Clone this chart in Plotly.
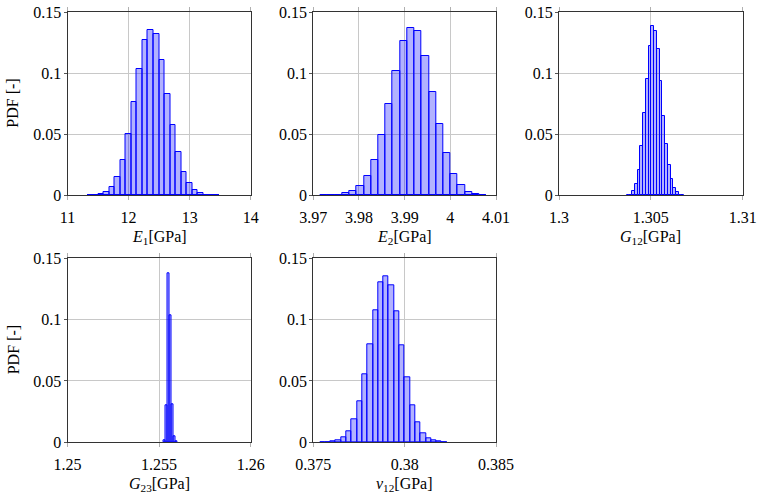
import plotly.graph_objects as go

# ---------------- data (bin centres and probability per bin) ----------------
e1_centers = [11.366, 11.457, 11.547, 11.638, 11.729, 11.819, 11.910, 12.000, 12.091,
              12.182, 12.272, 12.363, 12.453, 12.544, 12.635, 12.725, 12.816, 12.906,
              12.997, 13.087, 13.178, 13.269, 13.359, 13.450]
e1_pdf = [0.0001, 0.0003, 0.0010, 0.0025, 0.0065, 0.0153, 0.0286, 0.0499, 0.0761,
          0.1031, 0.1268, 0.1353, 0.1323, 0.1105, 0.0826, 0.0575, 0.0352, 0.0188,
          0.0098, 0.0044, 0.0019, 0.0005, 0.0002, 0.0001]
e1_bin = 0.0906

e2_centers = [3.97237, 3.97395, 3.97553, 3.97711, 3.97869, 3.98028, 3.98186, 3.98344,
              3.98502, 3.98660, 3.98819, 3.98977, 3.99135, 3.99293, 3.99451, 3.99610,
              3.99768, 3.99926, 4.00084, 4.00242, 4.00401, 4.00559, 4.00717]
e2_pdf = [0.0001, 0.0002, 0.0005, 0.0016, 0.0035, 0.0076, 0.0161, 0.0286, 0.0494,
          0.0745, 0.1015, 0.1260, 0.1366, 0.1342, 0.1137, 0.0845, 0.0581, 0.0344,
          0.0175, 0.0082, 0.0030, 0.0008, 0.0003]
e2_bin = 0.001582

g12_centers = [1.303762, 1.303911, 1.304060, 1.304209, 1.304358, 1.304507, 1.304656,
               1.304805, 1.304954, 1.305103, 1.305251, 1.305400, 1.305549, 1.305698,
               1.305847, 1.305996, 1.306145, 1.306294, 1.306443, 1.306592, 1.306741]
g12_pdf = [0.0002, 0.0006, 0.0035, 0.0095, 0.0205, 0.0406, 0.0671, 0.0949, 0.1219,
           0.1383, 0.1342, 0.1195, 0.0933, 0.0652, 0.0417, 0.0245, 0.0131, 0.0057,
           0.0025, 0.0005, 0.0002]
g12_bin = 0.0001489

g23_centers = [1.25529, 1.25540, 1.25551, 1.25562, 1.25573, 1.25584, 1.25595]
g23_pdf = [0.0016, 0.0300, 0.1378, 0.1033, 0.0310, 0.0050, 0.0005]
g23_bin = 0.000109

nu12_centers = [0.375505, 0.375795, 0.376085, 0.376375, 0.376665, 0.376955, 0.377245,
                0.377535, 0.377825, 0.378115, 0.378405, 0.378695, 0.378985, 0.379275,
                0.379565, 0.379855, 0.380145, 0.380435, 0.380725, 0.381015, 0.381305,
                0.381595, 0.381885, 0.382175]
nu12_pdf = [0.0001, 0.0002, 0.0005, 0.0016, 0.0041, 0.0090, 0.0184, 0.0337, 0.0551,
            0.0801, 0.1076, 0.1301, 0.1356, 0.1280, 0.1068, 0.0791, 0.0530, 0.0304,
            0.0163, 0.0071, 0.0033, 0.0014, 0.0005, 0.0002]
nu12_bin = 0.00029

e1_ticks = [11, 12, 13, 14]
e1_ticktext = ["11", "12", "13", "14"]
e2_ticks = [3.97, 3.98, 3.99, 4.00, 4.01]
e2_ticktext = ["3.97", "3.98", "3.99", "4", "4.01"]
g12_ticks = [1.300, 1.305, 1.310]
g12_ticktext = ["1.3", "1.305", "1.31"]
g23_ticks = [1.250, 1.255, 1.260]
g23_ticktext = ["1.25", "1.255", "1.26"]
nu12_ticks = [0.375, 0.380, 0.385]
nu12_ticktext = ["0.375", "0.38", "0.385"]

y_ticks = [0, 0.05, 0.1, 0.15]
y_ticktext = ["0", "0.05", "0.1", "0.15"]

x_titles = ["<i>E</i><sub>1</sub>[GPa]", "<i>E</i><sub>2</sub>[GPa]",
            "<i>G</i><sub>12</sub>[GPa]", "<i>G</i><sub>23</sub>[GPa]",
            "<i>ν</i><sub>12</sub>[GPa]"]
y_title = "PDF [-]"

# ---------------- layout helpers ----------------
W, H = 763, 493
FONT = "Liberation Serif, DejaVu Serif, serif"
FS = 16

def px_x(v):
    return v / W

def px_y(v):
    return 1 - v / H

# panel geometry in pixels: (left, right, top, bottom)
geom = [
    (67.5, 250.7, 12.0, 195.3),
    (313.3, 496.0, 12.0, 195.3),
    (559.0, 742.7, 12.0, 195.3),
    (67.5, 250.7, 258.3, 442.3),
    (313.3, 496.0, 258.3, 442.3),
]

panels = [
    (e1_centers, e1_pdf, e1_bin, [11, 14], e1_ticks, e1_ticktext),
    (e2_centers, e2_pdf, e2_bin, [3.97, 4.01], e2_ticks, e2_ticktext),
    (g12_centers, g12_pdf, g12_bin, [1.30, 1.31], g12_ticks, g12_ticktext),
    (g23_centers, g23_pdf, g23_bin, [1.25, 1.26], g23_ticks, g23_ticktext),
    (nu12_centers, nu12_pdf, nu12_bin, [0.375, 0.385], nu12_ticks, nu12_ticktext),
]

fig = go.Figure()
layout = dict(
    width=W, height=H,
    margin=dict(l=0, r=0, t=0, b=0, autoexpand=False),
    paper_bgcolor="white", plot_bgcolor="white",
    showlegend=False, bargap=0,
    font=dict(family=FONT, size=FS, color="black"),
)
annotations = []

for i, ((cx, pdf, wbin, xr, xt, xtt), (l, r, t, b)) in enumerate(zip(panels, geom)):
    n = "" if i == 0 else str(i + 1)
    fig.add_trace(go.Bar(
        x=cx, y=pdf, width=[wbin] * len(cx),
        marker=dict(color="rgba(0,0,255,0.3)", line=dict(color="blue", width=1)),
        xaxis="x" + n, yaxis="y" + n, hoverinfo="x+y",
    ))
    common = dict(
        showline=True, linecolor="#333333", linewidth=1,
        showgrid=True, gridcolor="#c8c8c8", gridwidth=1,
        ticks="outside", tickwidth=1,
        zeroline=False, automargin=False,
        tickfont=dict(family=FONT, size=FS, color="black"),
    )
    layout["xaxis" + n] = dict(
        common, domain=[px_x(l), px_x(r)], range=xr, anchor="y" + n,
        mirror="ticks", ticklen=4, tickcolor="#b0b0b0",
        tickmode="array", tickvals=xt, ticktext=xtt, ticklabelstandoff=3,
    )
    layout["yaxis" + n] = dict(
        common, domain=[px_y(b), px_y(t)], range=[0, 0.15], anchor="x" + n,
        mirror=True, ticklen=3, tickcolor="#555555", ticklabelstandoff=-1,
        tickmode="array", tickvals=y_ticks, ticktext=y_ticktext,
    )
    annotations.append(dict(
        text=x_titles[i], xref="paper", yref="paper",
        x=px_x((l + r) / 2), y=px_y(b + 42), showarrow=False,
        xanchor="center", yanchor="middle",
        font=dict(family=FONT, size=FS, color="black"),
    ))
    if i in (0, 3):
        annotations.append(dict(
            text=y_title, xref="paper", yref="paper",
            x=px_x(13), y=px_y((t + b) / 2), showarrow=False, textangle=-90,
            xanchor="center", yanchor="middle",
            font=dict(family=FONT, size=FS, color="black"),
        ))

layout["annotations"] = annotations
fig.update_layout(**layout)
fig.write_html("out.html", config={"displayModeBar": False},
               post_script="document.body.style.margin='0';document.body.style.overflow='hidden';")
